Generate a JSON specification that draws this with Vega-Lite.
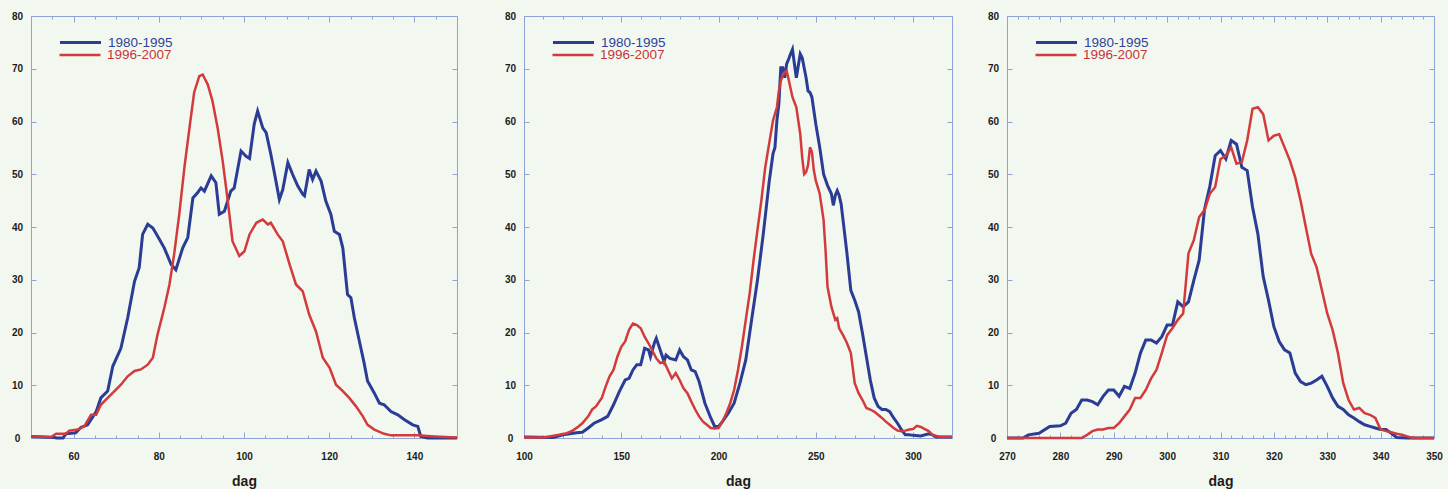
{
  "$schema": "https://vega.github.io/schema/vega-lite/v6.json",
  "background": "#f2f7ef",
  "padding": {"left": 5, "top": 10, "right": 5, "bottom": 0},
  "config": {
    "view": {"stroke": "#8fa3d6", "strokeWidth": 1, "fill": "#f2f7ef"},
    "axis": {
      "labelFont": "Liberation Sans", "labelFontWeight": "bold", "labelFontSize": 10, "labelColor": "#1c1c1c",
      "tickColor": "#8fa3d6", "tickWidth": 1, "domain": false, "grid": false,
      "titleFont": "Liberation Sans", "titleFontWeight": "bold", "titleFontSize": 14, "titleColor": "#1c1c1c"
    },
    "legend": {"padding": 0, "labelFont": "Liberation Sans", "labelFontSize": 13.5, "symbolType": "stroke", "symbolSize": 1681, "labelOffset": 5, "title": null}
  },
  "datasets": {
    "a1": [
      {"dag":50,"n":0.3},{"dag":55.5,"n":0.1},{"dag":56,"n":0},{"dag":57.5,"n":0},{"dag":58.2,"n":0.8},{"dag":60.5,"n":1},{"dag":61.7,"n":2},{"dag":63.3,"n":2.5},{"dag":65.3,"n":5},{"dag":66.4,"n":7.6},{"dag":68,"n":8.9},{"dag":69.2,"n":13.6},{"dag":71.1,"n":17},{"dag":72.7,"n":22.8},{"dag":74.3,"n":29.7},{"dag":75.4,"n":32.3},{"dag":76.2,"n":38.6},{"dag":77.4,"n":40.5},{"dag":78.6,"n":39.8},{"dag":79.7,"n":38.3},{"dag":81.3,"n":36},{"dag":82.9,"n":32.9},{"dag":84,"n":31.9},{"dag":85.6,"n":36},{"dag":86.8,"n":38},{"dag":88,"n":45.5},{"dag":89.1,"n":46.5},{"dag":89.9,"n":47.4},{"dag":90.7,"n":46.8},{"dag":92.3,"n":49.7},{"dag":93.4,"n":48.4},{"dag":94.2,"n":42.4},{"dag":95.4,"n":43},{"dag":96.9,"n":46.8},{"dag":97.7,"n":47.4},{"dag":99.3,"n":54.4},{"dag":100.5,"n":53.4},{"dag":101.3,"n":53},{"dag":102.4,"n":59.5},{"dag":103.2,"n":62},{"dag":104.4,"n":58.8},{"dag":105.2,"n":57.9},{"dag":106.3,"n":53.8},{"dag":107.5,"n":48.7},{"dag":108.3,"n":45.2},{"dag":109.1,"n":47.1},{"dag":110.3,"n":52.2},{"dag":111.4,"n":50},{"dag":112.6,"n":47.8},{"dag":113.8,"n":46.2},{"dag":114.2,"n":45.9},{"dag":115.3,"n":50.9},{"dag":116.1,"n":49},{"dag":116.9,"n":50.6},{"dag":118.1,"n":48.7},{"dag":119.2,"n":44.9},{"dag":120.4,"n":42.4},{"dag":121.2,"n":39.2},{"dag":122.4,"n":38.6},{"dag":123.2,"n":36},{"dag":124.3,"n":27.2},{"dag":125.1,"n":26.6},{"dag":125.9,"n":22.8},{"dag":127.1,"n":18.3},{"dag":128.2,"n":14.2},{"dag":129,"n":10.8},{"dag":130.6,"n":8.5},{"dag":131.8,"n":6.6},{"dag":132.9,"n":6.3},{"dag":134.5,"n":5},{"dag":136.1,"n":4.4},{"dag":137.6,"n":3.5},{"dag":139.6,"n":2.5},{"dag":140.8,"n":2.2},{"dag":141.5,"n":0.3},{"dag":143.1,"n":0},{"dag":150,"n":0}
    ],
    "r1": [
      {"dag":50,"n":0.3},{"dag":54.7,"n":0.2},{"dag":55.9,"n":0.8},{"dag":58.2,"n":0.8},{"dag":59,"n":1.4},{"dag":61,"n":1.6},{"dag":62.5,"n":2.2},{"dag":64.1,"n":4.4},{"dag":65.3,"n":4.4},{"dag":66.4,"n":6.3},{"dag":68,"n":7.6},{"dag":69.6,"n":8.9},{"dag":71.1,"n":10.1},{"dag":72.7,"n":11.7},{"dag":74.3,"n":12.7},{"dag":75.8,"n":13},{"dag":77.4,"n":13.9},{"dag":78.6,"n":15.2},{"dag":79.7,"n":19.6},{"dag":81.3,"n":24.7},{"dag":82.5,"n":29.1},{"dag":83.6,"n":34.8},{"dag":84.8,"n":42.4},{"dag":86,"n":51.2},{"dag":87.2,"n":58.8},{"dag":88.3,"n":65.5},{"dag":89.5,"n":68.6},{"dag":90.3,"n":68.9},{"dag":91.5,"n":67},{"dag":92.6,"n":63.9},{"dag":93.8,"n":58.8},{"dag":95,"n":52.5},{"dag":96.2,"n":44.9},{"dag":97.3,"n":37.3},{"dag":98.9,"n":34.5},{"dag":100.1,"n":35.4},{"dag":101.3,"n":38.6},{"dag":102.9,"n":40.8},{"dag":104.4,"n":41.4},{"dag":105.6,"n":40.5},{"dag":106.3,"n":40.8},{"dag":107.9,"n":38.6},{"dag":109.1,"n":37.3},{"dag":110.7,"n":32.9},{"dag":112.2,"n":29.1},{"dag":113.8,"n":27.8},{"dag":115.3,"n":23.4},{"dag":116.9,"n":20.2},{"dag":118.5,"n":15.2},{"dag":120.1,"n":13.3},{"dag":121.6,"n":10.1},{"dag":123.2,"n":8.9},{"dag":124.7,"n":7.6},{"dag":126.3,"n":6},{"dag":127.9,"n":4.1},{"dag":129,"n":2.5},{"dag":130.6,"n":1.6},{"dag":132.9,"n":0.8},{"dag":134.5,"n":0.5},{"dag":140.8,"n":0.5},{"dag":144.7,"n":0.3},{"dag":150,"n":0.1}
    ],
    "a2": [
      {"dag":100,"n":0.2},{"dag":115,"n":0.1},{"dag":120,"n":0.6},{"dag":127,"n":1},{"dag":130,"n":1.1},{"dag":133,"n":1.9},{"dag":136,"n":2.8},{"dag":140,"n":3.5},{"dag":143,"n":4.1},{"dag":146,"n":6.3},{"dag":149,"n":8.8},{"dag":152,"n":11},{"dag":154,"n":11.3},{"dag":156,"n":12.9},{"dag":158,"n":13.9},{"dag":160,"n":13.9},{"dag":162,"n":17},{"dag":164,"n":16.7},{"dag":165,"n":15.4},{"dag":167,"n":18},{"dag":168,"n":18.9},{"dag":170,"n":16.7},{"dag":172,"n":14.5},{"dag":173,"n":15.7},{"dag":175,"n":15.1},{"dag":178,"n":14.8},{"dag":180,"n":16.7},{"dag":182,"n":15.4},{"dag":184,"n":14.8},{"dag":186,"n":12.9},{"dag":188,"n":12.6},{"dag":190,"n":10.7},{"dag":193,"n":6.6},{"dag":196,"n":3.8},{"dag":198,"n":2.2},{"dag":200,"n":2.2},{"dag":202,"n":3.1},{"dag":205,"n":4.7},{"dag":208,"n":6.6},{"dag":211,"n":10.4},{"dag":214,"n":14.8},{"dag":217,"n":22.4},{"dag":220,"n":29.9},{"dag":223,"n":38.7},{"dag":226,"n":48.5},{"dag":228,"n":53.9},{"dag":229,"n":55.1},{"dag":230,"n":60.2},{"dag":231,"n":63.3},{"dag":232,"n":70.2},{"dag":233,"n":70.2},{"dag":234,"n":68.3},{"dag":235,"n":70.9},{"dag":236,"n":71.8},{"dag":237,"n":72.8},{"dag":238,"n":73.7},{"dag":239,"n":70.9},{"dag":240,"n":68.3},{"dag":241,"n":70.6},{"dag":242,"n":72.8},{"dag":243,"n":72.1},{"dag":244,"n":70.2},{"dag":245,"n":68.3},{"dag":246,"n":65.8},{"dag":247,"n":65.5},{"dag":248,"n":64.6},{"dag":250,"n":59.5},{"dag":252,"n":55.1},{"dag":254,"n":50},{"dag":256,"n":47.9},{"dag":258,"n":46.3},{"dag":259,"n":44.1},{"dag":260,"n":46},{"dag":261,"n":46.9},{"dag":262,"n":46},{"dag":263,"n":44.4},{"dag":264,"n":41.3},{"dag":266,"n":35},{"dag":268,"n":28},{"dag":270,"n":26.1},{"dag":272,"n":23.9},{"dag":274,"n":19.8},{"dag":276,"n":15.4},{"dag":278,"n":11},{"dag":280,"n":7.6},{"dag":282,"n":6},{"dag":284,"n":5.4},{"dag":286,"n":5.4},{"dag":288,"n":5},{"dag":290,"n":3.8},{"dag":292,"n":2.8},{"dag":294,"n":1.6},{"dag":296,"n":0.6},{"dag":298,"n":0.6},{"dag":300,"n":0.5},{"dag":304,"n":0.4},{"dag":308,"n":0.8},{"dag":310,"n":0.6},{"dag":312,"n":0.2},{"dag":316,"n":0.2},{"dag":320,"n":0.2}
    ],
    "r2": [
      {"dag":100,"n":0.1},{"dag":110,"n":0.1},{"dag":113,"n":0.3},{"dag":118,"n":0.6},{"dag":122,"n":0.9},{"dag":125,"n":1.4},{"dag":128,"n":2.2},{"dag":130,"n":2.8},{"dag":133,"n":4.1},{"dag":135,"n":5.4},{"dag":137,"n":6},{"dag":140,"n":7.6},{"dag":142,"n":9.8},{"dag":144,"n":11.7},{"dag":146,"n":12.9},{"dag":148,"n":15.4},{"dag":150,"n":17.3},{"dag":152,"n":18.3},{"dag":154,"n":20.5},{"dag":156,"n":21.7},{"dag":158,"n":21.4},{"dag":160,"n":20.8},{"dag":162,"n":19.2},{"dag":165,"n":17.3},{"dag":168,"n":15.1},{"dag":170,"n":14.2},{"dag":172,"n":14.5},{"dag":174,"n":12.9},{"dag":176,"n":11.3},{"dag":178,"n":12.3},{"dag":180,"n":11},{"dag":182,"n":9.4},{"dag":184,"n":8.5},{"dag":186,"n":6.9},{"dag":188,"n":5.4},{"dag":190,"n":4.1},{"dag":192,"n":3.1},{"dag":194,"n":2.5},{"dag":196,"n":1.9},{"dag":198,"n":1.8},{"dag":200,"n":1.9},{"dag":202,"n":3.1},{"dag":204,"n":4.7},{"dag":206,"n":6.6},{"dag":208,"n":9.1},{"dag":210,"n":12.9},{"dag":212,"n":17.3},{"dag":214,"n":22.4},{"dag":216,"n":27.4},{"dag":218,"n":33.7},{"dag":220,"n":39.4},{"dag":222,"n":45},{"dag":224,"n":51.3},{"dag":226,"n":55.8},{"dag":228,"n":60.2},{"dag":230,"n":62.7},{"dag":231,"n":65.8},{"dag":232,"n":67.7},{"dag":233,"n":68.7},{"dag":234,"n":69.3},{"dag":235,"n":69.6},{"dag":236,"n":68},{"dag":238,"n":64.6},{"dag":240,"n":62.7},{"dag":242,"n":57.6},{"dag":243,"n":53.2},{"dag":244,"n":50},{"dag":245,"n":50.4},{"dag":246,"n":51.7},{"dag":247,"n":55.1},{"dag":248,"n":54.2},{"dag":249,"n":50.7},{"dag":250,"n":48.8},{"dag":252,"n":46.3},{"dag":254,"n":41.3},{"dag":255,"n":35.6},{"dag":256,"n":28.7},{"dag":258,"n":24.9},{"dag":260,"n":22.4},{"dag":261,"n":22.7},{"dag":262,"n":20.8},{"dag":264,"n":19.5},{"dag":266,"n":18},{"dag":268,"n":16.1},{"dag":270,"n":10.4},{"dag":272,"n":8.5},{"dag":274,"n":7.2},{"dag":276,"n":5.7},{"dag":278,"n":5.4},{"dag":280,"n":5},{"dag":282,"n":4.4},{"dag":284,"n":3.8},{"dag":286,"n":3.1},{"dag":288,"n":2.5},{"dag":290,"n":1.9},{"dag":292,"n":1.4},{"dag":294,"n":1.3},{"dag":296,"n":1.4},{"dag":298,"n":1.6},{"dag":300,"n":1.7},{"dag":302,"n":2.3},{"dag":304,"n":2.1},{"dag":306,"n":1.7},{"dag":308,"n":1.3},{"dag":310,"n":0.6},{"dag":314,"n":0.2},{"dag":320,"n":0.2}
    ],
    "a3": [
      {"dag":270,"n":0},{"dag":273,"n":0},{"dag":274,"n":0.6},{"dag":276,"n":0.9},{"dag":278,"n":2.2},{"dag":280,"n":2.3},{"dag":281,"n":2.8},{"dag":282,"n":4.7},{"dag":283,"n":5.4},{"dag":284,"n":7.2},{"dag":285,"n":7.2},{"dag":286,"n":6.9},{"dag":287,"n":6.3},{"dag":288,"n":7.9},{"dag":289,"n":9.1},{"dag":290,"n":9.1},{"dag":291,"n":7.9},{"dag":292,"n":9.8},{"dag":293,"n":9.4},{"dag":294,"n":12.3},{"dag":295,"n":16.1},{"dag":296,"n":18.6},{"dag":297,"n":18.6},{"dag":298,"n":18},{"dag":299,"n":19.2},{"dag":300,"n":21.4},{"dag":301,"n":21.4},{"dag":302,"n":25.8},{"dag":303,"n":24.9},{"dag":304,"n":25.8},{"dag":305,"n":29.9},{"dag":306,"n":33.7},{"dag":307,"n":43.3},{"dag":308,"n":47.7},{"dag":309,"n":53.5},{"dag":310,"n":54.5},{"dag":311,"n":52.9},{"dag":312,"n":56.4},{"dag":313,"n":55.7},{"dag":314,"n":51.3},{"dag":315,"n":50.7},{"dag":316,"n":43.8},{"dag":317,"n":38.7},{"dag":318,"n":30.6},{"dag":319,"n":26.1},{"dag":320,"n":21.1},{"dag":321,"n":18.3},{"dag":322,"n":16.7},{"dag":323,"n":16.1},{"dag":324,"n":12.3},{"dag":325,"n":10.7},{"dag":326,"n":10.1},{"dag":327,"n":10.4},{"dag":328,"n":11},{"dag":329,"n":11.7},{"dag":330,"n":9.8},{"dag":331,"n":7.6},{"dag":332,"n":6},{"dag":333,"n":5.4},{"dag":334,"n":4.4},{"dag":335,"n":3.8},{"dag":336,"n":3.1},{"dag":337,"n":2.5},{"dag":338,"n":2.2},{"dag":339,"n":1.9},{"dag":340,"n":1.6},{"dag":341,"n":1.6},{"dag":342,"n":0.9},{"dag":343,"n":0.1},{"dag":345,"n":0},{"dag":350,"n":0}
    ],
    "r3": [
      {"dag":270,"n":0},{"dag":284,"n":0},{"dag":285,"n":0.6},{"dag":286,"n":1.3},{"dag":287,"n":1.6},{"dag":288,"n":1.6},{"dag":289,"n":1.9},{"dag":290,"n":1.9},{"dag":291,"n":2.8},{"dag":292,"n":4.1},{"dag":293,"n":5.4},{"dag":294,"n":7.6},{"dag":295,"n":7.6},{"dag":296,"n":9.1},{"dag":297,"n":11.3},{"dag":298,"n":12.9},{"dag":299,"n":16.1},{"dag":300,"n":19.5},{"dag":301,"n":20.8},{"dag":302,"n":22.4},{"dag":303,"n":23.6},{"dag":304,"n":35},{"dag":305,"n":37.5},{"dag":306,"n":41.9},{"dag":307,"n":43.2},{"dag":308,"n":46.3},{"dag":309,"n":47.6},{"dag":310,"n":52.9},{"dag":311,"n":53.5},{"dag":312,"n":55.1},{"dag":313,"n":52},{"dag":314,"n":52.3},{"dag":315,"n":56.4},{"dag":316,"n":62.4},{"dag":317,"n":62.7},{"dag":318,"n":61.4},{"dag":319,"n":56.4},{"dag":320,"n":57.3},{"dag":321,"n":57.6},{"dag":322,"n":55.1},{"dag":323,"n":52.6},{"dag":324,"n":49.4},{"dag":325,"n":45},{"dag":326,"n":39.9},{"dag":327,"n":34.9},{"dag":328,"n":32.4},{"dag":329,"n":28},{"dag":330,"n":23.6},{"dag":331,"n":20.5},{"dag":332,"n":16.1},{"dag":333,"n":10.4},{"dag":334,"n":7.2},{"dag":335,"n":5.4},{"dag":336,"n":5.7},{"dag":337,"n":4.7},{"dag":338,"n":4.4},{"dag":339,"n":3.8},{"dag":340,"n":1.6},{"dag":341,"n":1.3},{"dag":342,"n":1.1},{"dag":343,"n":0.8},{"dag":344,"n":0.6},{"dag":345,"n":0.3},{"dag":346,"n":0},{"dag":350,"n":0}
    ]
  },
  "spacing": 22,
  "hconcat": [
    {
      "spacing": 34,
      "hconcat": [
        {
          "width": 426, "height": 422,
          "layer": [
            {
              "data": {"name": "a1"},
              "mark": {"type": "line", "strokeWidth": 3},
              "encoding": {
                "x": {"field": "dag", "type": "quantitative", "scale": {"domain": [50, 150], "nice": false, "zero": false},
                  "axis": {"orient": "bottom", "title": "dag", "values": [50,55,60,65,70,75,80,85,90,95,100,105,110,115,120,125,130,135,140,145,150],
                    "labelExpr": "datum.value % 20 === 0 ? datum.label : ''", "tickSize": {"condition": {"test": "datum.value % 20 === 0", "value": -6}, "value": -3},
                    "labelPadding": 19, "titlePadding": 13, "labelFlush": false}},
                "y": {"field": "n", "type": "quantitative", "scale": {"domain": [0, 80], "nice": false},
                  "axis": {"orient": "left", "title": null, "values": [0,10,20,30,40,50,60,70,80], "tickSize": -5, "labelPadding": 19, "labelAlign": "center", "minExtent": 25, "maxExtent": 25, "labelFlush": false}},
                "color": {"datum": "1980-1995", "type": "nominal", "scale": {"range": ["#2a3c94"]},
                  "legend": {"orient": "none", "legendX": 27, "legendY": 4, "labelColor": "#2f4399", "symbolStrokeWidth": 3.2}}
              }
            },
            {
              "data": {"name": "r1"},
              "mark": {"type": "line", "strokeWidth": 2.5},
              "encoding": {
                "x": {"field": "dag", "type": "quantitative",
                  "axis": {"orient": "top", "title": null, "labels": false, "values": [50,55,60,65,70,75,80,85,90,95,100,105,110,115,120,125,130,135,140,145,150],
                    "tickSize": {"condition": {"test": "datum.value % 20 === 0", "value": -6}, "value": -3}, "minExtent": 0, "maxExtent": 0}},
                "y": {"field": "n", "type": "quantitative",
                  "axis": {"orient": "right", "title": null, "labels": false, "values": [0,10,20,30,40,50,60,70,80], "tickSize": -5, "minExtent": 0, "maxExtent": 0}},
                "color": {"datum": "1996-2007", "type": "nominal", "scale": {"range": ["#d23a3c"]},
                  "legend": {"orient": "none", "legendX": 27, "legendY": 17, "labelColor": "#c8353a", "symbolStrokeWidth": 2.6}}
              }
            }
          ],
          "resolve": {"scale": {"color": "independent"}, "axis": {"x": "independent", "y": "independent"}, "legend": {"color": "independent"}}
        },
        {
          "width": 428, "height": 422,
          "layer": [
            {
              "data": {"name": "a2"},
              "mark": {"type": "line", "strokeWidth": 3},
              "encoding": {
                "x": {"field": "dag", "type": "quantitative", "scale": {"domain": [100, 320], "nice": false, "zero": false},
                  "axis": {"orient": "bottom", "title": "dag", "values": [100,110,120,130,140,150,160,170,180,190,200,210,220,230,240,250,260,270,280,290,300,310,320],
                    "labelExpr": "datum.value % 50 === 0 ? datum.label : ''", "tickSize": {"condition": {"test": "datum.value % 50 === 0", "value": -6}, "value": -3},
                    "labelPadding": 19, "titlePadding": 13, "labelFlush": false}},
                "y": {"field": "n", "type": "quantitative", "scale": {"domain": [0, 80], "nice": false},
                  "axis": {"orient": "left", "title": null, "values": [0,10,20,30,40,50,60,70,80], "tickSize": -5, "labelPadding": 19, "labelAlign": "center", "minExtent": 25, "maxExtent": 25, "labelFlush": false}},
                "color": {"datum": "1980-1995", "type": "nominal", "scale": {"range": ["#2a3c94"]},
                  "legend": {"orient": "none", "legendX": 27, "legendY": 4, "labelColor": "#2f4399", "symbolStrokeWidth": 3.2}}
              }
            },
            {
              "data": {"name": "r2"},
              "mark": {"type": "line", "strokeWidth": 2.5},
              "encoding": {
                "x": {"field": "dag", "type": "quantitative",
                  "axis": {"orient": "top", "title": null, "labels": false, "values": [100,110,120,130,140,150,160,170,180,190,200,210,220,230,240,250,260,270,280,290,300,310,320],
                    "tickSize": {"condition": {"test": "datum.value % 50 === 0", "value": -6}, "value": -3}, "minExtent": 0, "maxExtent": 0}},
                "y": {"field": "n", "type": "quantitative",
                  "axis": {"orient": "right", "title": null, "labels": false, "values": [0,10,20,30,40,50,60,70,80], "tickSize": -5, "minExtent": 0, "maxExtent": 0}},
                "color": {"datum": "1996-2007", "type": "nominal", "scale": {"range": ["#d23a3c"]},
                  "legend": {"orient": "none", "legendX": 27, "legendY": 17, "labelColor": "#c8353a", "symbolStrokeWidth": 2.6}}
              }
            }
          ],
          "resolve": {"scale": {"color": "independent"}, "axis": {"x": "independent", "y": "independent"}, "legend": {"color": "independent"}}
        }
      ]
    },
    {
      "width": 427, "height": 422,
      "layer": [
        {
          "data": {"name": "a3"},
          "mark": {"type": "line", "strokeWidth": 3},
          "encoding": {
            "x": {"field": "dag", "type": "quantitative", "scale": {"domain": [270, 350], "nice": false, "zero": false},
              "axis": {"orient": "bottom", "title": "dag", "values": [270,272,274,276,278,280,282,284,286,288,290,292,294,296,298,300,302,304,306,308,310,312,314,316,318,320,322,324,326,328,330,332,334,336,338,340,342,344,346,348,350],
                "labelExpr": "datum.value % 10 === 0 ? datum.label : ''", "tickSize": {"condition": {"test": "datum.value % 10 === 0", "value": -6}, "value": -3},
                "labelPadding": 19, "titlePadding": 13, "labelFlush": false}},
            "y": {"field": "n", "type": "quantitative", "scale": {"domain": [0, 80], "nice": false},
              "axis": {"orient": "left", "title": null, "values": [0,10,20,30,40,50,60,70,80], "tickSize": -5, "labelPadding": 19, "labelAlign": "center", "minExtent": 25, "maxExtent": 25, "labelFlush": false}},
            "color": {"datum": "1980-1995", "type": "nominal", "scale": {"range": ["#2a3c94"]},
              "legend": {"orient": "none", "legendX": 27, "legendY": 4, "labelColor": "#2f4399", "symbolStrokeWidth": 3.2}}
          }
        },
        {
          "data": {"name": "r3"},
          "mark": {"type": "line", "strokeWidth": 2.5},
          "encoding": {
            "x": {"field": "dag", "type": "quantitative",
              "axis": {"orient": "top", "title": null, "labels": false, "values": [270,272,274,276,278,280,282,284,286,288,290,292,294,296,298,300,302,304,306,308,310,312,314,316,318,320,322,324,326,328,330,332,334,336,338,340,342,344,346,348,350],
                "tickSize": {"condition": {"test": "datum.value % 10 === 0", "value": -6}, "value": -3}, "minExtent": 0, "maxExtent": 0}},
            "y": {"field": "n", "type": "quantitative",
              "axis": {"orient": "right", "title": null, "labels": false, "values": [0,10,20,30,40,50,60,70,80], "tickSize": -5, "minExtent": 0, "maxExtent": 0}},
            "color": {"datum": "1996-2007", "type": "nominal", "scale": {"range": ["#d23a3c"]},
              "legend": {"orient": "none", "legendX": 27, "legendY": 17, "labelColor": "#c8353a", "symbolStrokeWidth": 2.6}}
          }
        }
      ],
      "resolve": {"scale": {"color": "independent"}, "axis": {"x": "independent", "y": "independent"}, "legend": {"color": "independent"}}
    }
  ]
}
